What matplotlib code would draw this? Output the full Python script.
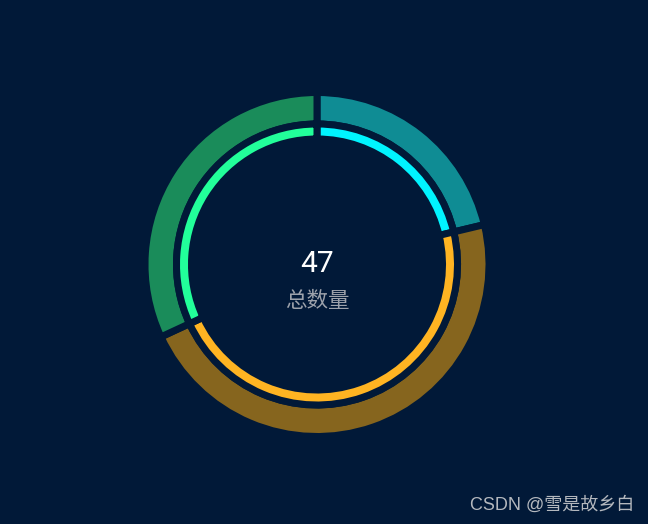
import matplotlib
matplotlib.use("Agg")
import matplotlib.pyplot as plt

plt.rcParams['font.family'] = ['Noto Sans CJK SC', 'DejaVu Sans']

categories = ["A", "B", "C"]
values = [10, 22, 15]
total_label = "总数量"
inner_colors = ["#00F4FF", "#FFB422", "#22FF9A"]
outer_colors = ["#0F8C94", "#86651E", "#1A8C5A"]
bg = "#011938"

W, H = 648, 524
fig = plt.figure(figsize=(W / 100, H / 100), dpi=100, facecolor=bg)
ax = fig.add_axes([0, 0, 1, 1])
ax.set_facecolor(bg)

cx, cy = 317, H - 264.5
gap_pt = 7 * 72 / 100
pad = 3.5

ax.pie(values, colors=outer_colors, startangle=90, counterclock=False,
       radius=168.5 + pad, center=(cx, cy),
       wedgeprops=dict(width=24.5 + 2 * pad, edgecolor=bg, linewidth=gap_pt))
ax.pie(values, colors=inner_colors, startangle=90, counterclock=False,
       radius=137 + pad, center=(cx, cy),
       wedgeprops=dict(width=8 + 2 * pad, edgecolor=bg, linewidth=gap_pt))

ax.set_xlim(0, W)
ax.set_ylim(0, H)
ax.set_aspect('equal')
ax.axis('off')

ax.text(cx, H - 264, str(sum(values)), color="white", fontsize=21.5,
        ha='center', va='center', family=['Roboto', 'DejaVu Sans'])
ax.text(cx, H - 301, total_label, color="#9DA2AB", fontsize=15.5,
        ha='center', va='center')
ax.text(634, H - 505, "CSDN @雪是故乡白", color="#B4B8BE", fontsize=13,
        ha='right', va='center', family=['Liberation Sans', 'Noto Sans CJK SC'])

fig.savefig("out.png", dpi=100, facecolor=bg)
